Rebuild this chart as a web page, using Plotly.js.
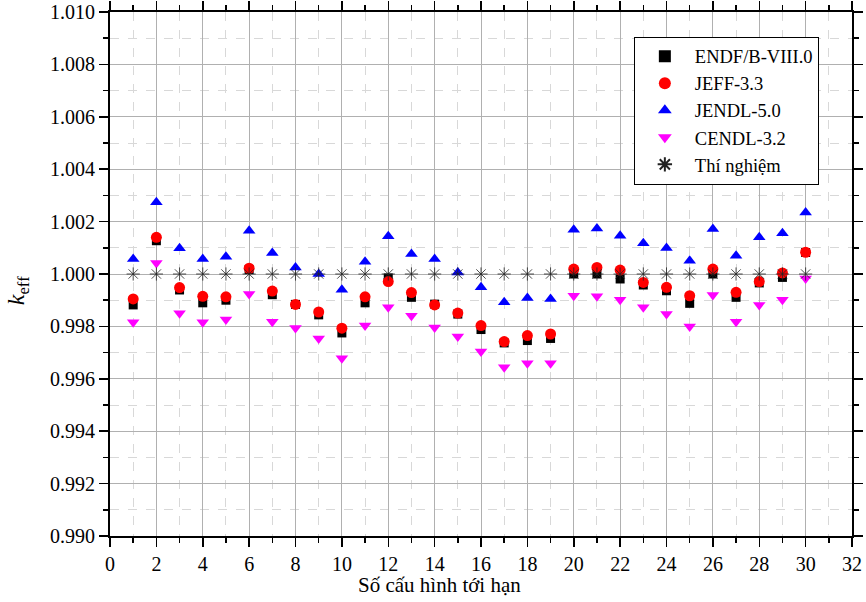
<!DOCTYPE html>
<html>
<head>
<meta charset="utf-8">
<script src="https://cdn.plot.ly/plotly-3.0.1.min.js"></script>
<style>html,body{margin:0;padding:0;background:#fff;}#chart{width:866px;height:602px;}</style>
</head>
<body>
<div id="chart"></div>
<script>
const configs = [1,2,3,4,5,6,7,8,9,10,11,12,13,14,15,16,17,18,19,20,21,22,23,24,25,26,27,28,29,30];
const endf = [0.99882,1.00127,0.99939,0.99890,0.99900,1.00017,0.99921,0.99884,0.99844,0.99775,
              0.99890,0.99985,0.99911,0.99885,0.99847,0.99788,0.99737,0.99746,0.99754,1.00000,
              1.00000,0.99981,0.99958,0.99936,0.99888,1.00000,0.99911,0.99966,0.99987,1.00082];
const jeff = [0.99905,1.00140,0.99948,0.99915,0.99913,1.00022,0.99935,0.99884,0.99855,0.99793,
              0.99913,0.99971,0.99929,0.99882,0.99851,0.99803,0.99742,0.99765,0.99771,1.00019,
              1.00025,1.00015,0.99968,0.99949,0.99917,1.00019,0.99930,0.99971,1.00004,1.00083];
const jendl = [1.00057,1.00274,1.00098,1.00057,1.00066,1.00165,1.00080,1.00025,1.00000,0.99940,
               1.00047,1.00144,1.00076,1.00057,1.00006,0.99949,0.99892,0.99908,0.99905,1.00169,
               1.00174,1.00146,1.00117,1.00099,1.00051,1.00172,1.00070,1.00140,1.00156,1.00235];
const cendl = [0.99816,1.00042,0.99850,0.99816,0.99826,0.99924,0.99818,0.99794,0.99754,0.99678,
               0.99803,0.99873,0.99841,0.99796,0.99761,0.99704,0.99644,0.99659,0.99659,0.99917,
               0.99915,0.99902,0.99873,0.99847,0.99800,0.99920,0.99818,0.99882,0.99902,0.99983];
const experiment = [1,1,1,1,1,1,1,1,1,1,1,1,1,1,1,1,1,1,1,1,1,1,1,1,1,1,1,1,1,1];
const names = ['ENDF/B-VIII.0','JEFF-3.3','JENDL-5.0','CENDL-3.2','Thí nghiệm'];
const xTitle = 'Số cấu hình tới hạn';
const yTitle = '<i>k</i><sub>eff</sub>';

const traces = [
  {x: configs, y: endf, name: names[0], mode: 'markers', type: 'scatter',
   marker: {symbol: 'square', size: 9, color: '#000000'}},
  {x: configs, y: jeff, name: names[1], mode: 'markers', type: 'scatter',
   marker: {symbol: 'circle', size: 11, color: '#ff0000'}},
  {x: configs, y: jendl, name: names[2], mode: 'markers', type: 'scatter',
   marker: {symbol: 'triangle-up', size: 11, color: '#0000ff'}},
  {x: configs, y: cendl, name: names[3], mode: 'markers', type: 'scatter',
   marker: {symbol: 'triangle-down', size: 11, color: '#ff00ff'}},
  {x: configs, y: experiment, name: names[4], mode: 'markers', type: 'scatter',
   marker: {symbol: 'asterisk-open', size: 11, color: '#222222', line: {color: '#222222', width: 0.8}}}
];

const font = 'Liberation Serif';
const layout = {
  width: 866, height: 602,
  margin: {l: 110, r: 14, t: 12, b: 66},
  paper_bgcolor: '#ffffff', plot_bgcolor: '#ffffff',
  font: {family: font, size: 20, color: '#000000'},
  showlegend: true,
  legend: {x: 0.706, y: 0.953, xanchor: 'left', yanchor: 'top',
           bgcolor: '#ffffff', bordercolor: '#000000', borderwidth: 1,
           font: {family: font, size: 18.5, color: '#000000'},
           itemwidth: 50, itemsizing: 'constant', tracegroupgap: 0},
  xaxis: {
    range: [0, 32], dtick: 2, tick0: 0,
    showline: true, linecolor: '#000000', linewidth: 2, mirror: 'ticks',
    ticks: 'outside', ticklen: 9, tickwidth: 1.5, tickcolor: '#000000',
    showgrid: true, gridcolor: '#b0b0b0', gridwidth: 1, zeroline: false,
    minor: {dtick: 1, tick0: 0, ticks: 'outside', ticklen: 5, tickcolor: '#000000',
            showgrid: true, gridcolor: '#d8d8d8', griddash: 'dash', gridwidth: 1},
    tickfont: {family: font, size: 20, color: '#000000'}
  },
  yaxis: {
    range: [0.990, 1.010], dtick: 0.002, tick0: 0.990, tickformat: '.3f',
    showline: true, linecolor: '#000000', linewidth: 2, mirror: 'ticks',
    ticks: 'outside', ticklen: 9, tickwidth: 1.5, tickcolor: '#000000',
    showgrid: true, gridcolor: '#b0b0b0', gridwidth: 1, zeroline: false,
    minor: {dtick: 0.001, tick0: 0.990, ticks: 'outside', ticklen: 5, tickcolor: '#000000',
            showgrid: true, gridcolor: '#d8d8d8', griddash: 'dash', gridwidth: 1},
    tickfont: {family: font, size: 20, color: '#000000'}
  },
  annotations: [
    {text: xTitle, xref: 'x', yref: 'paper', x: 14.2, y: -0.0935,
     xanchor: 'center', yanchor: 'middle', showarrow: false,
     font: {family: font, size: 21, color: '#000000'}},
    {text: yTitle, xref: 'paper', yref: 'paper', x: -0.124, y: 0.469,
     xanchor: 'center', yanchor: 'middle', showarrow: false, textangle: -90,
     font: {family: font, size: 24, color: '#000000'}}
  ]
};

Plotly.newPlot('chart', traces, layout, {displayModeBar: false, staticPlot: true});
</script>
</body>
</html>
